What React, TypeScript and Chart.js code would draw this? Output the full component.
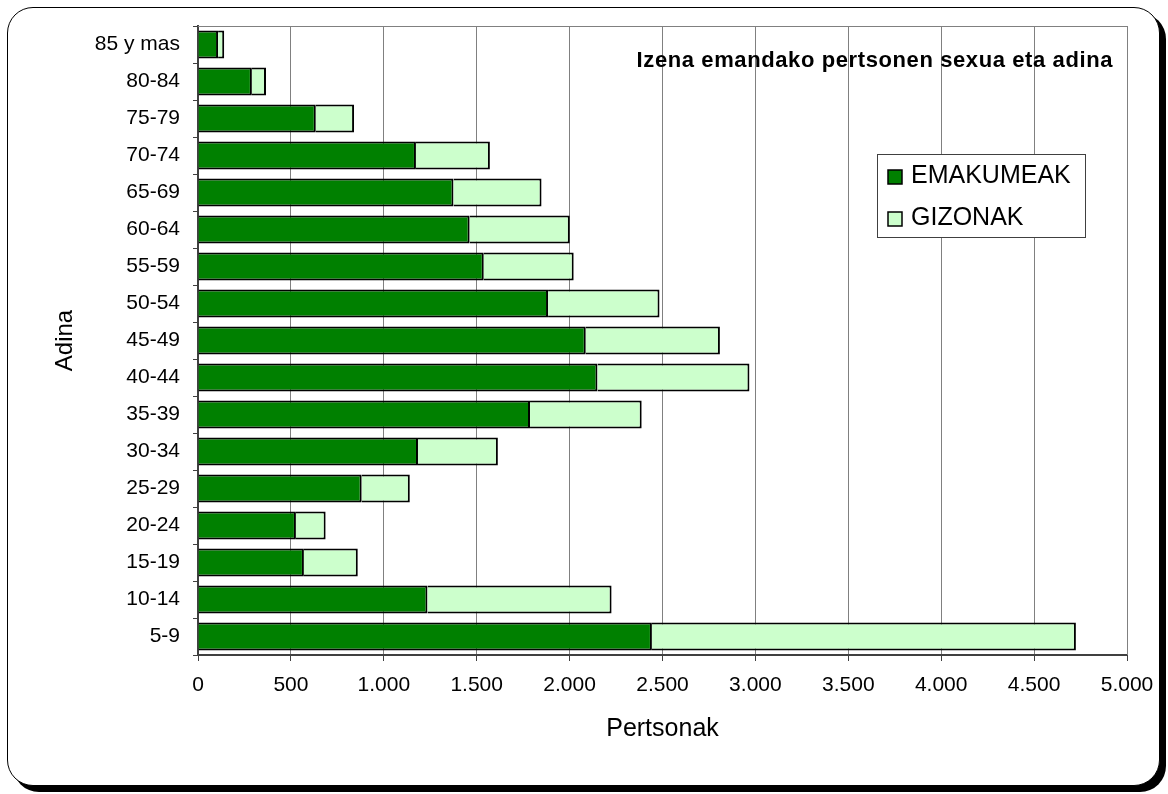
import React, { useEffect, useRef } from "react";
import { Chart, registerables } from "chart.js";

Chart.register(...registerables);

const ageGroups = [
  "85 y mas", "80-84", "75-79", "70-74", "65-69", "60-64", "55-59", "50-54",
  "45-49", "40-44", "35-39", "30-34", "25-29", "20-24", "15-19", "10-14", "5-9",
];
const emakumeak = [108, 290, 634, 1173, 1375, 1462, 1538, 1884, 2087, 2150, 1787, 1184, 881, 527, 570, 1235, 2443];
const gizonak = [33, 76, 206, 398, 474, 539, 484, 600, 722, 818, 601, 430, 259, 160, 290, 991, 2282];
const xTickLabels = ["0", "500", "1.000", "1.500", "2.000", "2.500", "3.000", "3.500", "4.000", "4.500", "5.000"];

const chartTitle = "Izena emandako pertsonen sexua eta adina";
const xTitle = "Pertsonak";
const yTitle = "Adina";

const FONT = "'Liberation Sans', Arial, sans-serif";

const decorPlugin = {
  id: "decor",
  beforeDatasetsDraw(chart: any) {
    const { ctx, chartArea } = chart;
    ctx.save();
    ctx.strokeStyle = "#808080";
    ctx.lineWidth = 1;
    ctx.beginPath();
    ctx.moveTo(chartArea.left, chartArea.top + 0.5);
    ctx.lineTo(chartArea.right + 0.5, chartArea.top + 0.5);
    ctx.lineTo(chartArea.right + 0.5, chartArea.bottom);
    ctx.stroke();
    ctx.restore();
  },
  afterDatasetsDraw(chart: any) {
    const { ctx, chartArea } = chart;
    ctx.save();
    // title inside plot
    ctx.font = `bold 22px ${FONT}`;
    (ctx as any).letterSpacing = "0.6px";
    ctx.fillStyle = "#000";
    ctx.textAlign = "right";
    ctx.textBaseline = "alphabetic";
    ctx.fillText(chartTitle, chartArea.right - 14, 67);
    (ctx as any).letterSpacing = "0px";

    // legend box
    const bx = 877.5, by = 154.5, bw = 208, bh = 83;
    ctx.fillStyle = "#fff";
    ctx.fillRect(bx, by, bw, bh);
    ctx.strokeStyle = "#404040";
    ctx.lineWidth = 1;
    ctx.strokeRect(bx, by, bw, bh);
    const items = chart.data.datasets;
    const rows = [177, 219];
    items.forEach((ds: any, i: number) => {
      const cy = rows[i];
      ctx.fillStyle = ds.backgroundColor;
      ctx.fillRect(888, cy - 7, 14, 14);
      ctx.strokeStyle = "#000";
      ctx.lineWidth = 1.5;
      ctx.strokeRect(888, cy - 7, 14, 14);
      ctx.fillStyle = "#000";
      ctx.font = `25px ${FONT}`;
      ctx.textAlign = "left";
      ctx.textBaseline = "alphabetic";
      ctx.fillText(ds.label, 911, cy + 6);
    });
    ctx.restore();
  },
};

export default function App() {
  const ref = useRef<HTMLCanvasElement | null>(null);

  useEffect(() => {
    if (!ref.current) return;
    Chart.defaults.font.family = FONT;
    Chart.defaults.color = "#000";
    const chart = new Chart(ref.current, {
      type: "bar",
      data: {
        labels: ageGroups,
        datasets: [
          {
            label: "EMAKUMEAK",
            data: emakumeak,
            backgroundColor: "#008000",
            borderColor: "#000",
            borderWidth: 2,
            categoryPercentage: 1,
            barPercentage: 0.76,
          },
          {
            label: "GIZONAK",
            data: gizonak,
            backgroundColor: "#CCFFCC",
            borderColor: "#000",
            borderWidth: 2,
            categoryPercentage: 1,
            barPercentage: 0.76,
          },
        ],
      },
      options: {
        indexAxis: "y",
        responsive: false,
        animation: false,
        layout: { padding: { left: 0, top: 26, right: 41, bottom: 39 } },
        plugins: {
          legend: { display: false },
          title: { display: false },
          tooltip: { enabled: false },
        },
        scales: {
          x: {
            stacked: true,
            min: 0,
            max: 5000,
            ticks: {
              stepSize: 500,
              font: { size: 21 },
              color: "#000",
              padding: 12,
              maxRotation: 0,
              autoSkip: false,
              callback: (v: any, i: number) => xTickLabels[i] ?? String(v),
            },
            grid: {
              color: "#808080",
              lineWidth: 1,
              tickColor: "#404040",
              tickLength: 6,
            },
            border: { color: "#404040", width: 2 },
            title: {
              display: true,
              text: xTitle,
              font: { size: 25 },
              color: "#000",
              padding: { top: 0, bottom: 11 },
            },
            afterFit: (scale: any) => {
              scale.height = 100;
            },
          },
          y: {
            stacked: true,
            ticks: {
              font: { size: 21 },
              color: "#000",
              padding: 13,
              autoSkip: false,
            },
            grid: {
              drawOnChartArea: false,
              offset: true,
              tickLength: 5,
              tickColor: "#404040",
            },
            border: { color: "#404040", width: 2 },
            title: {
              display: true,
              text: yTitle,
              font: { size: 24 },
              color: "#000",
              padding: { top: 51, bottom: 0 },
            },
            afterFit: (scale: any) => {
              scale.width = 198;
            },
          },
        },
      },
      plugins: [decorPlugin],
    } as any);
    return () => chart.destroy();
  }, []);

  return (
    <>
      <div
        style={{
          position: "absolute",
          left: 7,
          top: 7,
          width: 1153,
          height: 779,
          boxSizing: "border-box",
          border: "1.5px solid #000",
          borderRadius: 26,
          boxShadow: "6px 6px 0 #000",
          background: "#fff",
        }}
      />
      <canvas
        ref={ref}
        width={1168}
        height={794}
        style={{ position: "absolute", left: 0, top: 0, width: 1168, height: 794 }}
      />
    </>
  );
}
